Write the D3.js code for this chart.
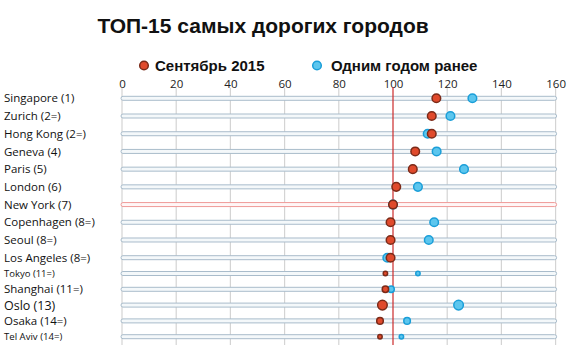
<!DOCTYPE html>
<html>
<head>
<meta charset="utf-8">
<script src="https://cdn.jsdelivr.net/npm/d3@7"></script>
<style>
  html, body { margin: 0; padding: 0; background: #fff; }
  svg { display: block; }
</style>
</head>
<body>
<svg id="chart" width="570" height="350"></svg>
<script>
// Cost-of-living index, New York = 100
const cities = ["Singapore (1)", "Zurich (2=)", "Hong Kong (2=)", "Geneva (4)", "Paris (5)",
  "London (6)", "New York (7)", "Copenhagen (8=)", "Seoul (8=)", "Los Angeles (8=)",
  "Tokyo (11=)", "Shanghai (11=)", "Oslo (13)", "Osaka (14=)", "Tel Aviv (14=)"];
const sep2015 = [116, 114.3, 114.3, 108.2, 107.3, 101.2, 100, 99.1, 99.1, 99.1, 97.2, 97.2, 96.1, 95.2, 95.2];
const yearAgo = [129.3, 121.2, 112.8, 116.1, 126.2, 109.2, 100, 115.2, 113.2, 97.9, 109.2, 99.3, 124.2, 105.2, 103.1];
const xTicks = [0, 20, 40, 60, 80, 100, 120, 140, 160];
const seriesNames = ["Сентябрь 2015", "Одним годом ранее"];
const title = "ТОП-15 самых дорогих городов";

// per-row display emphasis (label size and marker radius)
const labelSize = [11.5, 11.5, 11.5, 11.5, 11.5, 11.5, 11.5, 11.5, 11.5, 11.5, 9.5, 11.5, 12.5, 11.5, 9.6];
const dotRadius = [4.3, 4.3, 4.3, 4.3, 4.3, 4.3, 4.3, 4.3, 4.3, 4.3, 2.2, 3.2, 4.8, 3.3, 2.2];

const svg = d3.select("#chart");
const red = "#e04a2c", redStroke = "#7b2a18";
const blue = "#5cc6ee", blueStroke = "#1a9ed8";
const labelFont = "'Open Sans', 'DejaVu Sans', sans-serif";

const x = d3.scaleLinear().domain([0, 160]).range([122, 555.6]);
const idx = d3.range(cities.length);
const y = d3.scaleLinear().domain([0, 9, 14]).range([98.3, 257.7, 336.7]);

// title
svg.append("text")
  .attr("x", 263).attr("y", 33)
  .attr("text-anchor", "middle")
  .attr("font-family", "'Liberation Sans', Arial, sans-serif")
  .attr("font-weight", "bold")
  .attr("font-size", 21)
  .attr("fill", "#111")
  .text(title);

// legend
const legend = [
  { name: seriesNames[0], cx: 144, fill: red, stroke: redStroke, tx: 155 },
  { name: seriesNames[1], cx: 317, fill: blue, stroke: blueStroke, tx: 331 }
];
const lg = svg.append("g");
lg.selectAll("circle").data(legend).join("circle")
  .attr("cx", d => d.cx).attr("cy", 65.5).attr("r", 4.3)
  .attr("fill", d => d.fill).attr("stroke", d => d.stroke).attr("stroke-width", 1.5);
lg.selectAll("text").data(legend).join("text")
  .attr("x", d => d.tx).attr("y", 71)
  .attr("font-family", "'Liberation Sans', Arial, sans-serif")
  .attr("font-weight", "bold")
  .attr("font-size", 15)
  .attr("fill", "#111")
  .text(d => d.name);

// top axis with full-height grid lines
const gridTop = 89, gridBottom = 345;
const axis = svg.append("g")
  .attr("transform", `translate(0,${gridTop})`)
  .call(d3.axisTop(x).tickValues(xTicks).tickSize(0).tickPadding(1).tickFormat(d3.format("d")));
axis.select(".domain").remove();
axis.selectAll("text")
  .attr("font-family", labelFont)
  .attr("font-size", 11.5)
  .attr("fill", "#222");

svg.append("g").selectAll("line").data(xTicks.filter(t => t !== 100)).join("line")
  .attr("x1", d => x(d)).attr("x2", d => x(d))
  .attr("y1", gridTop - 1).attr("y2", gridBottom)
  .attr("stroke", "#d4d4d4").attr("stroke-width", 1.2);

// row tracks
const tracks = svg.append("g");
tracks.selectAll("rect").data(idx).join("rect")
  .attr("x", x(0) - 1).attr("width", x(160) - x(0) + 2)
  .attr("y", i => y(i) - 2).attr("height", 4)
  .attr("rx", 2)
  .attr("fill", i => cities[i].startsWith("New York") ? "#fff6f6" : "#f4f8fa")
  .attr("stroke", i => cities[i].startsWith("New York") ? "#ef9a98" : "#a9bccb")
  .attr("stroke-width", 1);

// reference line at 100
svg.append("line")
  .attr("x1", x(100)).attr("x2", x(100))
  .attr("y1", gridTop - 2).attr("y2", gridBottom)
  .attr("stroke", "#cc2a2a").attr("stroke-width", 1.2);

// city labels
svg.append("g").selectAll("text").data(idx).join("text")
  .attr("x", 4).attr("y", i => y(i))
  .attr("dy", "0.36em")
  .attr("font-family", labelFont)
  .attr("font-size", i => labelSize[i])
  .attr("fill", "#111")
  .text(i => cities[i]);

// dots: year-ago first, September 2015 on top
svg.append("g").selectAll("circle").data(idx).join("circle")
  .attr("cx", i => x(yearAgo[i])).attr("cy", i => y(i))
  .attr("r", i => dotRadius[i])
  .attr("fill", blue).attr("stroke", blueStroke).attr("stroke-width", 1.5);
svg.append("g").selectAll("circle").data(idx).join("circle")
  .attr("cx", i => x(sep2015[i])).attr("cy", i => y(i))
  .attr("r", i => dotRadius[i])
  .attr("fill", red).attr("stroke", redStroke).attr("stroke-width", 1.5);
</script>
</body>
</html>
